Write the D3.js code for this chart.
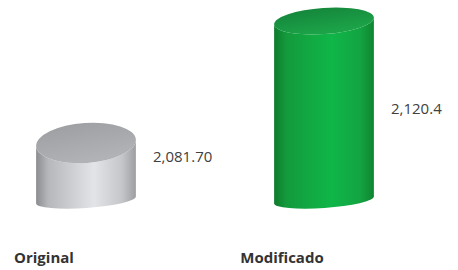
<!DOCTYPE html>
<html>
<head>
<meta charset="utf-8">
<script src="https://cdnjs.cloudflare.com/ajax/libs/d3/7.8.5/d3.min.js"></script>
<style>
  body { margin: 0; background: #fff; }
  .valueText { font-family: "Open Sans", sans-serif; font-size: 15px; fill: #404040; }
  .catText { font-family: "Open Sans", sans-serif; font-size: 15px; font-weight: bold; fill: #333; }
</style>
</head>
<body>
<div id="chart"></div>
<script>
// chart data
var categories = ["Original", "Modificado"];
var values = [2081.70, 2120.4];
var valueLabels = ["2,081.70", "2,120.4"];

var svgWidth = 458;
var svgHeight = 270;

var svg = d3.select("#chart")
  .append("svg")
  .attr("width", svgWidth)
  .attr("height", svgHeight);

// cylinder centres come from a point scale, heights from a linear one
var xScale = d3.scalePoint()
  .domain(categories)
  .range([86, 324]);

var yScale = d3.scaleLinear()
  .domain([2063.6, 2120.4])
  .range([200, 21]);

var rx = 50;
var tilt = -4;
var bottomRy = 8;
// perspective: lower tops are seen more from above
var topRy = d3.scaleLinear().domain([21, 143]).range([13, 20]);

var colors = [
  { id: "gray", side: ["#8a8c90", "#b5b7ba", "#e2e4e7", "#c4c6c9", "#9c9ea1"], top: ["#9c9ea2", "#b0b2b5"] },
  { id: "green", side: ["#0e7a2c", "#149a3c", "#0fb648", "#13a442", "#0f8531"], top: ["#14843a", "#1ca348"] }
];

var defs = svg.append("defs");
colors.forEach(function (c) {
  var g = defs.append("linearGradient").attr("id", "side-" + c.id)
    .attr("x1", "0%").attr("x2", "100%").attr("y1", "0%").attr("y2", "0%");
  [0, 12, 58, 86, 100].forEach(function (o, i) {
    g.append("stop").attr("offset", o + "%").attr("stop-color", c.side[i]);
  });
  var t = defs.append("linearGradient").attr("id", "top-" + c.id)
    .attr("x1", "0%").attr("x2", "30%").attr("y1", "0%").attr("y2", "100%");
  t.append("stop").attr("offset", "0%").attr("stop-color", c.top[0]);
  t.append("stop").attr("offset", "100%").attr("stop-color", c.top[1]);
});

var rad = tilt * Math.PI / 180;
var dx = rx * Math.cos(rad);
var dy = rx * Math.sin(rad);
var base = yScale.range()[0];

var groups = svg.selectAll(".cyl")
  .data(values)
  .enter()
  .append("g")
  .attr("class", "cyl");

groups.append("path")
  .attr("fill", function (d, i) { return "url(#side-" + colors[i].id + ")"; })
  .attr("d", function (d, i) {
    var cx = xScale(categories[i]);
    var cy = yScale(d);
    var ry = topRy(cy);
    return "M" + (cx - dx) + "," + (cy - dy) +
      "L" + (cx - dx) + "," + (base - dy) +
      "A" + rx + "," + bottomRy + " " + tilt + " 0 0 " + (cx + dx) + "," + (base + dy) +
      "L" + (cx + dx) + "," + (cy + dy) +
      "A" + rx + "," + ry + " " + tilt + " 0 1 " + (cx - dx) + "," + (cy - dy) + "Z";
  });

groups.append("ellipse")
  .attr("cx", function (d, i) { return xScale(categories[i]); })
  .attr("cy", function (d) { return yScale(d); })
  .attr("rx", rx)
  .attr("ry", function (d) { return topRy(yScale(d)); })
  .attr("transform", function (d, i) {
    return "rotate(" + tilt + "," + xScale(categories[i]) + "," + yScale(d) + ")";
  })
  .attr("fill", function (d, i) { return "url(#top-" + colors[i].id + ")"; });

// value labels beside each cylinder
svg.selectAll(".valueText")
  .data(values)
  .enter()
  .append("text")
  .attr("class", "valueText")
  .attr("x", function (d, i) { return xScale(categories[i]) + rx + 17; })
  .attr("y", function (d) { return 0.4 * yScale(d) + 0.5 * base; })
  .attr("dy", "0.35em")
  .text(function (d, i) { return valueLabels[i]; });

// category labels
svg.selectAll(".catText")
  .data(categories)
  .enter()
  .append("text")
  .attr("class", "catText")
  .attr("x", function (d) { return xScale(d) - 42; })
  .attr("y", 263)
  .attr("text-anchor", "middle")
  .text(function (d) { return d; });
</script>
</body>
</html>
